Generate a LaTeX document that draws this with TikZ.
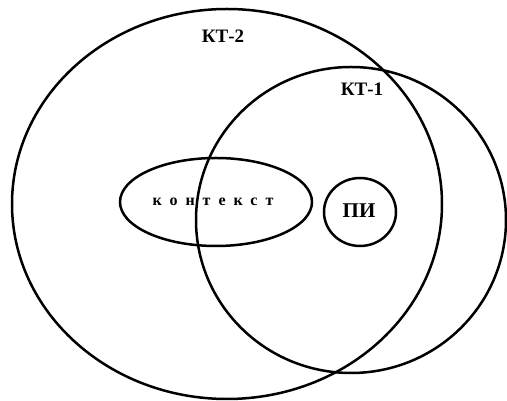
\documentclass[tikz,border=0pt]{standalone}
\usepackage{fontspec}
\setmainfont{Liberation Serif}
\newfontfamily\spacedfont[LetterSpace=50]{Liberation Serif}
\begin{document}
\begin{tikzpicture}[x=1pt,y=1pt,
  setline/.style={draw=black,line width=2.5pt},
  lbl/.style={font=\bfseries\fontsize{19}{21}\selectfont,inner sep=0pt}]
\useasboundingbox (0,0) rectangle (507,401);
\draw[setline] (227,197) ellipse [x radius=215,y radius=195];
\draw[setline] (351,181) ellipse [x radius=155,y radius=153];
\draw[setline] (216,199) ellipse [x radius=96,y radius=44];
\draw[setline] (360,189) ellipse [x radius=36,y radius=34];
\node[lbl] (kt2) at (223,365) {КТ-2};
\node[lbl] (kt1) at (362,312) {КТ-1};
\node[lbl,font=\bfseries\fontsize{21}{23}\selectfont] (pi) at (359,190) {ПИ};
\node[inner sep=0pt,font=\spacedfont\bfseries\fontsize{16}{18}\selectfont] (ctx) at (213,199) {контекст};
\end{tikzpicture}
\end{document}
